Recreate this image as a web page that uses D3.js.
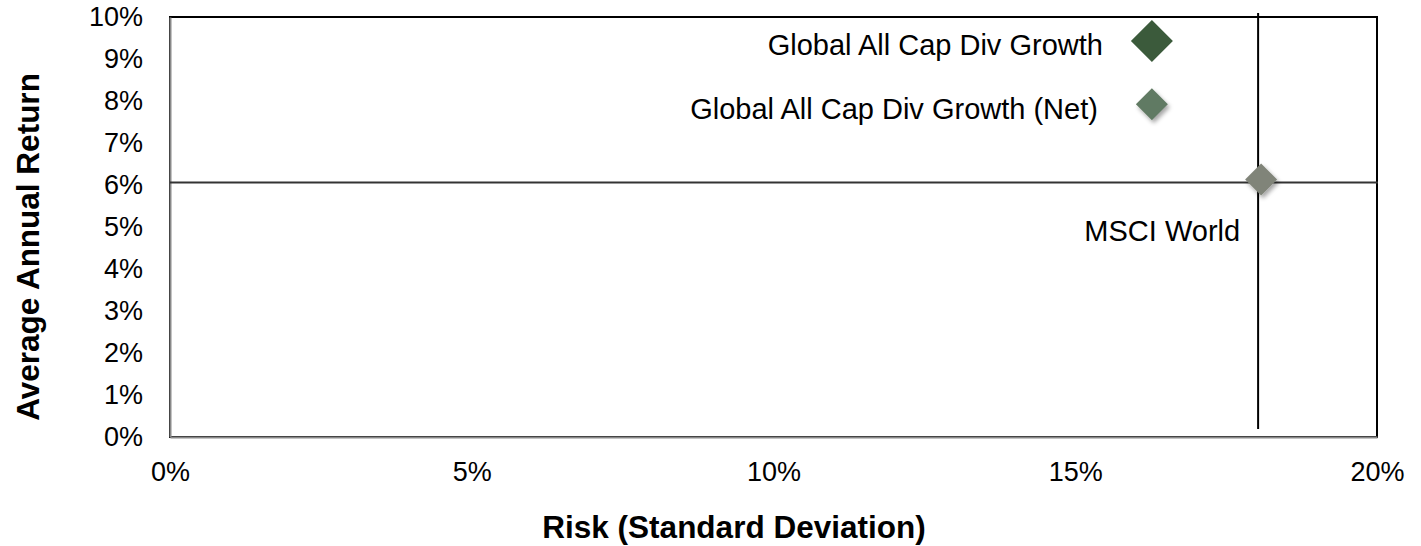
<!DOCTYPE html>
<html>
<head>
<meta charset="utf-8">
<script src="https://cdn.jsdelivr.net/npm/d3@7"></script>
<style>
  html, body { margin: 0; padding: 0; background: #fff; }
  svg { display: block; font-family: "Liberation Sans", Arial, sans-serif; }
</style>
</head>
<body>
<svg id="chart" width="1421" height="546"></svg>
<script>
// ---- data ----
const seriesNames = ["Global All Cap Div Growth", "Global All Cap Div Growth (Net)", "MSCI World"];
const riskValues = [16.27, 16.27, 18.08];     // x, % std dev
const returnValues = [9.43, 7.92, 6.13];      // y, % avg annual return
const markerColors = ["#3b5a3b", "#617a63", "#808479"];
const markerSizes = [21, 16, 16];
const markerShadow = [false, true, true];
const crossRisk = 18.03;
const crossReturn = 6.06;
const xTickValues = [0, 5, 10, 15, 20];
const yTickValues = [0, 1, 2, 3, 4, 5, 6, 7, 8, 9, 10];
const xTitle = "Risk (Standard Deviation)";
const yTitle = "Average Annual Return";

// ---- layout ----
const svg = d3.select("#chart");
const L = 170, R = 1377, T = 17, B = 437;
const x = d3.scaleLinear().domain([0, 20]).range([L, R]);
const y = d3.scaleLinear().domain([0, 10]).range([B, T]);

const defs = svg.append("defs");
const f = defs.append("filter").attr("id", "shadow").attr("x", "-50%").attr("y", "-50%").attr("width", "200%").attr("height", "200%");
f.append("feDropShadow").attr("dx", 2).attr("dy", 3).attr("stdDeviation", 2).attr("flood-color", "#000").attr("flood-opacity", 0.35);

// plot border
svg.append("rect").attr("x", L).attr("y", T).attr("width", R - L).attr("height", B - T)
  .attr("fill", "none").attr("stroke", "#000").attr("stroke-width", 2);

// axes
const yAxis = d3.axisLeft(y).tickValues(yTickValues).tickSize(0).tickPadding(27).tickFormat(d => d + "%");
const gy = svg.append("g").attr("transform", `translate(${L},0)`).call(yAxis);
gy.select(".domain").attr("stroke", "#898989").attr("stroke-width", 2);
gy.selectAll("text").attr("font-size", 27).attr("fill", "#000").attr("font-family", "Liberation Sans, Arial, sans-serif");

const xAxis = d3.axisBottom(x).tickValues(xTickValues).tickSize(0).tickPadding(25).tickFormat(d => d + "%");
const gx = svg.append("g").attr("transform", `translate(0,${B})`).call(xAxis);
gx.select(".domain").attr("stroke", "#898989").attr("stroke-width", 2);
gx.selectAll("text").attr("font-size", 27).attr("fill", "#000").attr("font-family", "Liberation Sans, Arial, sans-serif");

// crosshair
svg.append("line").attr("x1", x(0)).attr("x2", x(20) + 1).attr("y1", y(crossReturn)).attr("y2", y(crossReturn))
  .attr("stroke", "#333").attr("stroke-width", 2);
svg.append("line").attr("x1", x(crossRisk)).attr("x2", x(crossRisk)).attr("y1", T - 4).attr("y2", B - 8)
  .attr("stroke", "#000").attr("stroke-width", 2);

// markers
const diamond = s => `M0,${-s}L${s},0L0,${s}L${-s},0Z`;
seriesNames.forEach((name, i) => {
  svg.append("path").attr("d", diamond(markerSizes[i]))
    .attr("transform", `translate(${x(riskValues[i])},${y(returnValues[i])})`)
    .attr("fill", markerColors[i])
    .attr("filter", markerShadow[i] ? "url(#shadow)" : null);
});

// data labels
const labelFont = 29;
[0, 1].forEach(i => {
  svg.append("text").text(seriesNames[i])
    .attr("x", x(riskValues[i]) - (i === 0 ? 49 : 54))
    .attr("y", y(returnValues[i]) + 4)
    .attr("dy", "0.35em")
    .attr("text-anchor", "end").attr("font-size", labelFont).attr("fill", "#000");
});
svg.append("text").text(seriesNames[2])
  .attr("x", x(riskValues[2]) - 21)
  .attr("y", y(returnValues[2]) + 51)
  .attr("dy", "0.35em")
  .attr("text-anchor", "end").attr("font-size", labelFont).attr("fill", "#000");

// titles
svg.append("text").text(xTitle).attr("x", 734).attr("y", 538)
  .attr("text-anchor", "middle").attr("font-size", 31.5).attr("font-weight", "bold").attr("fill", "#000");
svg.append("text").text(yTitle)
  .attr("transform", `translate(39,247) rotate(-90)`)
  .attr("text-anchor", "middle").attr("font-size", 31.5).attr("font-weight", "bold").attr("fill", "#000");
</script>
</body>
</html>
